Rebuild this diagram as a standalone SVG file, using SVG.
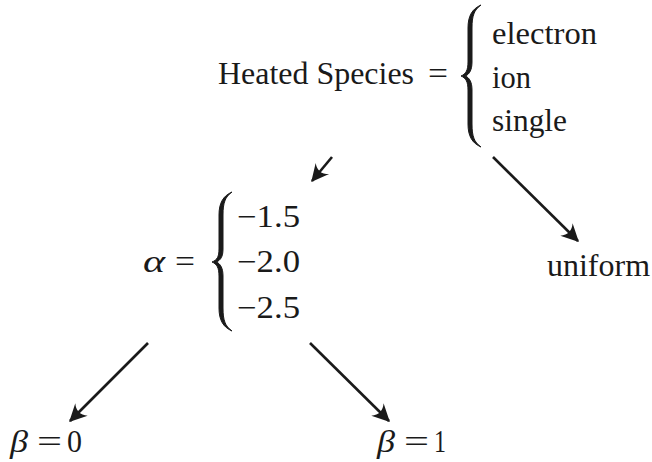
<svg xmlns="http://www.w3.org/2000/svg" width="652" height="462" viewBox="0 0 652 462" font-family="Liberation Serif, Tinos, Times New Roman, serif">
<style>
text{font-family:'Liberation Serif',Tinos,'Times New Roman',serif;font-size:31px;fill:#1a1a1a}
.m{font-style:italic}
.br{fill:#1a1a1a;stroke:#1a1a1a;stroke-width:1;stroke-linejoin:round}
.ln{stroke:#1a1a1a;stroke-width:2.6;fill:none}
</style>
<defs>
<marker id="ah" markerUnits="userSpaceOnUse" markerWidth="20" markerHeight="20" viewBox="-14 -8 16 16" refX="0" refY="0" orient="auto">
<path d="M1,0 L-13,-7 Q-7,0 -13,7 Z" fill="#1a1a1a"/>
</marker>
</defs>
<rect width="652" height="462" fill="#fff"/>
<g id="species">
<text x="218" y="84" textLength="196" lengthAdjust="spacingAndGlyphs">Heated Species</text>
<text x="428" y="84" textLength="20" lengthAdjust="spacingAndGlyphs">=</text>
<path class="br" d="M481,5 C472,9 468,16 468,28 L468,62 C468,70 466,74 461,76 C466,78 468,82 468,90 L468,124 C468,136 472,143 481,147 C474,142 472,136 472,124 L472,90 C472,82 469.5,78 465.5,76 C469.5,74 472,70 472,62 L472,28 C472,16 474,10 481,5 Z"/>
<text x="492" y="44" textLength="105" lengthAdjust="spacingAndGlyphs">electron</text>
<text x="492" y="88" textLength="39" lengthAdjust="spacingAndGlyphs">ion</text>
<text x="492" y="131" textLength="75" lengthAdjust="spacingAndGlyphs">single</text>
</g>
<g id="alpha">
<text class="m" x="143" y="272" textLength="22" lengthAdjust="spacingAndGlyphs">α</text>
<text x="175" y="272" textLength="20" lengthAdjust="spacingAndGlyphs">=</text>
<path class="br" d="M232,192 C223,196 219,203 219,215 L219,249 C219,257 217,260 212,262 C217,264 219,268 219,276 L219,308 C219,320 223,327 232,331 C225,326 223,320 223,308 L223,276 C223,268 220.5,264 216.5,262 C220.5,260 223,257 223,249 L223,215 C223,203 225,197 232,192 Z"/>
<text x="237" y="227" textLength="63" lengthAdjust="spacingAndGlyphs">−1.5</text>
<text x="237" y="272" textLength="63" lengthAdjust="spacingAndGlyphs">−2.0</text>
<text x="237" y="318" textLength="63" lengthAdjust="spacingAndGlyphs">−2.5</text>
</g>
<g id="uniform">
<text x="547" y="276" textLength="103" lengthAdjust="spacingAndGlyphs">uniform</text>
</g>
<g id="beta0">
<text class="m" x="10" y="452" textLength="18" lengthAdjust="spacingAndGlyphs">β</text>
<text x="37" y="452" textLength="25" lengthAdjust="spacingAndGlyphs">=</text>
<text x="67" y="452" textLength="15" lengthAdjust="spacingAndGlyphs">0</text>
</g>
<g id="beta1">
<text class="m" x="377" y="452" textLength="18" lengthAdjust="spacingAndGlyphs">β</text>
<text x="404" y="452" textLength="25" lengthAdjust="spacingAndGlyphs">=</text>
<text x="434" y="452" textLength="12" lengthAdjust="spacingAndGlyphs">1</text>
</g>
<g id="connectors">
<line class="ln" x1="332" y1="157" x2="312" y2="181" marker-end="url(#ah)"/>
<line class="ln" x1="493" y1="157" x2="578" y2="241" marker-end="url(#ah)"/>
<line class="ln" x1="148" y1="343" x2="70" y2="421" marker-end="url(#ah)"/>
<line class="ln" x1="310" y1="343" x2="389" y2="421" marker-end="url(#ah)"/>
</g>
</svg>
